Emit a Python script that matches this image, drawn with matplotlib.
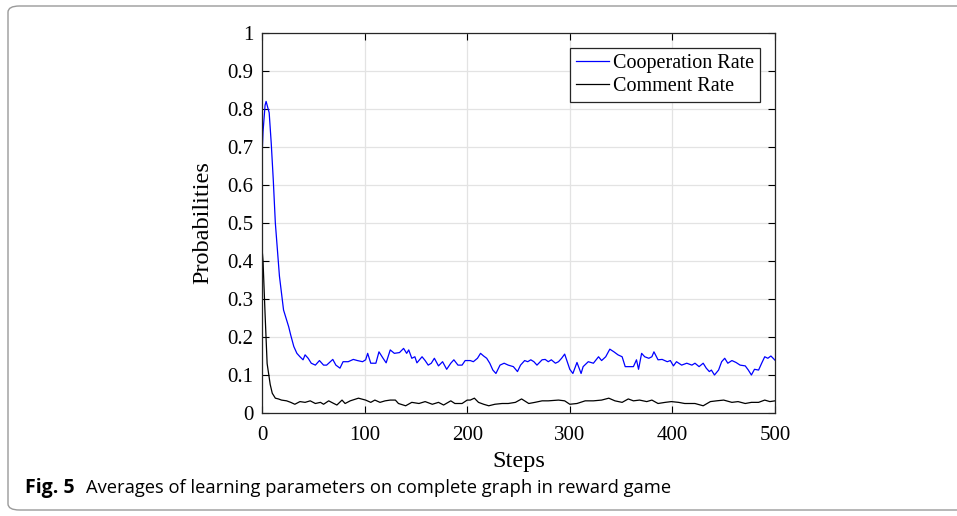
import numpy as np
import matplotlib
matplotlib.use('Agg')
import matplotlib.pyplot as plt
from matplotlib.patches import FancyBboxPatch


# cooperation rate (blue)
coop_steps = [0, 1, 3, 4, 5, 7, 9, 11, 13, 17, 21, 26, 28, 31, 34, 37, 40, 42, 45, 48,
              52, 56, 60, 63, 69, 72, 76, 79, 84, 89, 93, 98, 101, 103, 106, 111, 114, 118,
              121, 125, 129, 134, 138, 141, 143, 146, 149, 151, 156, 159, 162, 165, 168,
              172, 176, 180, 184, 187, 191, 195, 198, 203, 206, 210, 213, 216, 219, 222,
              225, 228, 232, 236, 240, 245, 249, 252, 256, 259, 262, 265, 268, 273, 276,
              279, 282, 286, 289, 292, 295, 298, 300, 303, 307, 311, 313, 318, 323, 328,
              331, 335, 339, 343, 347, 351, 354, 358, 362, 365, 367, 370, 373, 377, 380,
              382, 386, 390, 395, 398, 401, 404, 409, 414, 419, 422, 426, 430, 433, 436,
              438, 441, 445, 448, 451, 454, 458, 462, 466, 471, 474, 477, 480, 484, 487,
              490, 493, 496, 500]
coop_rate = [0.674, 0.74, 0.81, 0.82, 0.81, 0.79, 0.71, 0.613, 0.50, 0.36, 0.271, 0.227,
             0.205, 0.175, 0.157, 0.148, 0.140, 0.153, 0.144, 0.131, 0.126, 0.138, 0.126,
             0.126, 0.141, 0.126, 0.118, 0.135, 0.135, 0.141, 0.138, 0.135, 0.140, 0.157,
             0.131, 0.131, 0.161, 0.144, 0.132, 0.166, 0.157, 0.159, 0.170, 0.157, 0.166,
             0.144, 0.148, 0.132, 0.148, 0.138, 0.126, 0.131, 0.144, 0.124, 0.135, 0.115,
             0.131, 0.140, 0.126, 0.126, 0.138, 0.138, 0.135, 0.144, 0.157, 0.150, 0.144,
             0.131, 0.113, 0.104, 0.126, 0.131, 0.126, 0.122, 0.109, 0.126, 0.138, 0.135,
             0.140, 0.135, 0.126, 0.140, 0.141, 0.135, 0.140, 0.131, 0.135, 0.144, 0.155,
             0.131, 0.115, 0.104, 0.133, 0.104, 0.122, 0.135, 0.131, 0.148, 0.138, 0.148,
             0.168, 0.161, 0.153, 0.148, 0.122, 0.122, 0.122, 0.140, 0.115, 0.157, 0.148,
             0.144, 0.148, 0.161, 0.140, 0.141, 0.135, 0.138, 0.124, 0.135, 0.126, 0.131,
             0.126, 0.131, 0.122, 0.131, 0.118, 0.109, 0.113, 0.100, 0.113, 0.135, 0.144,
             0.131, 0.138, 0.133, 0.126, 0.124, 0.113, 0.100, 0.115, 0.113, 0.131, 0.148,
             0.144, 0.150, 0.139]

# comment rate (black)
comm_steps = [0, 1, 3, 5, 8, 10, 13, 16, 19, 24,
              28, 32, 37, 42, 47, 52, 57, 60, 65, 70,
              73, 78, 81, 86, 94, 101, 106, 110, 115, 120,
              125, 130, 133, 140, 146, 153, 159, 166, 172, 177,
              184, 188, 195, 200, 203, 207, 211, 216, 221, 227,
              234, 240, 247, 253, 260, 266, 273, 279, 289, 295,
              300, 307, 315, 323, 331, 338, 344, 351, 357, 362,
              368, 375, 380, 386, 393, 399, 406, 412, 422, 430,
              437, 443, 450, 458, 464, 471, 477, 484, 490, 495,
              500]
comm_rate = [0.434, 0.40, 0.26, 0.13, 0.075, 0.052, 0.039, 0.037, 0.034, 0.032,
             0.028, 0.023, 0.030, 0.028, 0.032, 0.025, 0.028, 0.023, 0.032, 0.025,
             0.021, 0.034, 0.025, 0.032, 0.039, 0.034, 0.028, 0.034, 0.028, 0.032,
             0.034, 0.034, 0.025, 0.019, 0.028, 0.025, 0.030, 0.023, 0.028, 0.021,
             0.032, 0.025, 0.025, 0.034, 0.034, 0.039, 0.028, 0.023, 0.019, 0.023,
             0.025, 0.025, 0.028, 0.037, 0.025, 0.028, 0.032, 0.032, 0.034, 0.032,
             0.023, 0.025, 0.032, 0.032, 0.034, 0.039, 0.032, 0.028, 0.037, 0.032,
             0.034, 0.030, 0.034, 0.025, 0.028, 0.030, 0.028, 0.025, 0.025, 0.019,
             0.030, 0.032, 0.034, 0.028, 0.030, 0.025, 0.028, 0.028, 0.034, 0.030,
             0.032]

xticks = [0, 100, 200, 300, 400, 500]
yticks = [0, 0.1, 0.2, 0.3, 0.4, 0.5, 0.6, 0.7, 0.8, 0.9, 1]
ytick_labels = ['0', '0.1', '0.2', '0.3', '0.4', '0.5', '0.6', '0.7', '0.8', '0.9', '1']


fig = plt.figure(figsize=(9.57, 5.16), dpi=100)

# rounded frame round the whole figure (right side runs off the picture)
frame = FancyBboxPatch((8/957, 6/516), 990/957, 504/516,
                       boxstyle='round,pad=0,rounding_size=0.012',
                       transform=fig.transFigure, facecolor='none',
                       edgecolor='#9a9a9a', linewidth=1.0, clip_on=False)
fig.patches.append(frame)

ax = fig.add_axes([262/957, 103/516, 513/957, 380/516])

ax.plot(coop_steps, coop_rate, color='#0000ff', linewidth=0.9, label='Cooperation Rate')
ax.plot(comm_steps, comm_rate, color='black', linewidth=0.9, label='Comment Rate')

ax.set_xlim(0, 500)
ax.set_ylim(0, 1)
ax.set_xticks(xticks)
ax.set_yticks(yticks)
ax.set_yticklabels(ytick_labels)

serif = 'Liberation Serif'
for lab in ax.get_xticklabels() + ax.get_yticklabels():
    lab.set_family(serif)
    lab.set_fontsize(15)

ax.tick_params(direction='in', top=True, right=True, length=5, width=0.8, pad=6)
ax.tick_params(axis='x', pad=9.5)
ax.grid(True, color='#e3e3e3', linewidth=0.9)
ax.set_axisbelow(True)
for sp in ax.spines.values():
    sp.set_linewidth(0.9)
    sp.set_color('#262626')

ax.set_xlabel('Steps', family=serif, fontsize=17.5, labelpad=4)
ax.set_ylabel('Probabilities', family=serif, fontsize=17.5, labelpad=10)

leg = ax.legend(loc='upper right', prop={'family': serif, 'size': 14.5},
                fancybox=False, framealpha=1, edgecolor='#262626',
                borderaxespad=0.75, handlelength=1.6, handletextpad=0.2,
                borderpad=0.3, labelspacing=0.2)
leg.get_frame().set_linewidth(0.9)

# caption
fig.text(25/957, 1 - 488/516, 'Fig. 5', family='Open Sans', fontweight='bold',
         fontsize=14, va='center', ha='left')
fig.text(86/957, 1 - 488/516, 'Averages of learning parameters on complete graph in reward game',
         family='Open Sans', fontsize=13.2, va='center', ha='left')

fig.savefig('out.png', dpi=100)
